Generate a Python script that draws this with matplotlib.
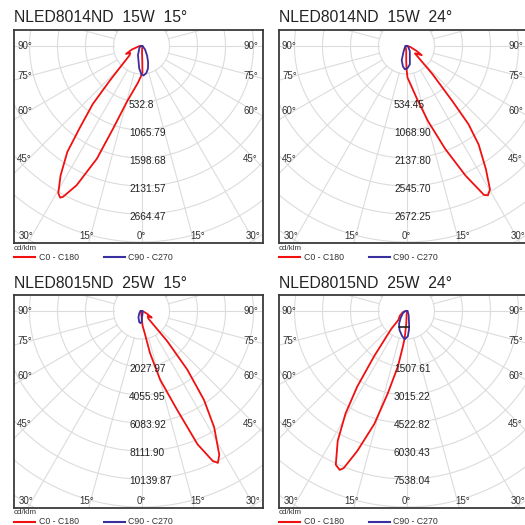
import numpy as np
import matplotlib.pyplot as plt

plt.rcParams['font.family'] = ['Liberation Sans', 'DejaVu Sans']

titles = ["NLED8014ND  15W  15°", "NLED8014ND  15W  24°",
          "NLED8015ND  25W  15°", "NLED8015ND  25W  24°"]
ring_labels = [
    ["532.8", "1065.79", "1598.68", "2131.57", "2664.47"],
    ["534.45", "1068.90", "2137.80", "2545.70", "2672.25"],
    ["2027.97", "4055.95", "6083.92", "8111.90", "10139.87"],
    ["1507.61", "3015.22", "4522.82", "6030.43", "7538.04"],
]
side_labels = ["90°", "75°", "60°", "45°"]
bottom_labels = ["30°", "15°", "0°", "15°", "30°"]
legend_labels = ["C0 - C180", "C90 - C270"]
unit_label = "cd/klm"

# gamma in degrees (negative = C180 / C270 side), intensity in cd/klm
p1_c0_gamma = [-90, -70, -63, -58, -52, -49, -45, -42.5, -40, -37, -35, -32, -29.5, -28.2,
               -27.5, -25, -21.6, -19, -14.5, -6, -2, 2, 3, 5, 20, 90]
p1_c0_cd = [19, 97, 165, 126, 145, 184, 291, 446, 722, 978, 1230, 1453, 1608, 1637,
            1618, 1463, 1153, 833, 542, 358, 300, 252, 145, 58, 19, 10]
p1_c90_gamma = [-90, -45, -21, -12, -6, 0, 4, 10, 16, 22, 30, 45, 90]
p1_c90_cd = [10, 29, 94, 139, 213, 271, 281, 262, 223, 168, 107, 48, 10]

p2_c0_gamma = [-90, -10, -3, -1, 0, 1.8, 11, 16, 20.6, 24.5, 27.5, 28.6, 30.2, 32.8,
               36.2, 38.4, 39.8, 42.8, 48.8, 52, 59, 64, 75, 90]
p2_c0_cd = [10, 29, 49, 146, 214, 301, 505, 748, 1049, 1360, 1603, 1623, 1584, 1399,
            1166, 952, 680, 360, 107, 117, 170, 107, 39, 10]
p2_c90_gamma = [-90, -40, -26.6, -18.5, -10, -4.2, 2, 10.4, 15.4, 33, 60, 90]
p2_c90_cd = [10, 29, 65, 144, 197, 223, 214, 178, 120, 58, 19, 10]

p3_c0_gamma = [-90, -10, 0, 4, 8.4, 11.4, 15.2, 19.8, 22.8, 25.4, 26.7, 28.4, 32, 35.1,
               38, 40.5, 42, 50, 57, 64, 90]
p3_c0_cd = [37, 74, 184, 527, 830, 1549, 2581, 3798, 5236, 6010, 6157, 5921, 4966, 3934,
            2692, 1419, 369, 295, 442, 221, 37]
p3_c90_gamma = [-90, -45, -26.6, -12, -5, 0, 5, 20, 90]
p3_c90_cd = [37, 111, 247, 406, 442, 406, 221, 111, 37]

p4_c0_gamma = [-90, -73, -55, -42, -40.4, -35.6, -33.1, -30.7, -27.9, -24.7, -22.8, -21.8,
               -19.4, -15.9, -12.8, -8.8, -5.7, -3.7, -1, 2, 90]
p4_c0_cd = [27, 99, 219, 330, 630, 1494, 2431, 3221, 3958, 4556, 4641, 4556,
            4002, 3163, 2275, 1508, 946, 713, 329, 82, 27]
p4_c90_gamma = [-90, -60, -40, -30, -20, -10, -3.5, 3, 8, 10.3, 15, 30, 90]
p4_c90_cd = [27, 110, 247, 400, 548, 685, 759, 685, 493, 397, 247, 110, 27]
p4_marker_cd = 438   # black level marker across the C90 curve

curves = [
    (p1_c0_gamma, p1_c0_cd, p1_c90_gamma, p1_c90_cd),
    (p2_c0_gamma, p2_c0_cd, p2_c90_gamma, p2_c90_cd),
    (p3_c0_gamma, p3_c0_cd, p3_c90_gamma, p3_c90_cd),
    (p4_c0_gamma, p4_c0_cd, p4_c90_gamma, p4_c90_cd),
]

RED = '#f01010'
BLUE = '#3a2f9e'
GRID = '#dcdcdc'
W = 525.0
RING_PX = 28.0
BOX_W, BOX_H = 249.0, 213.0
CX, CY = 127.5, 16.0          # centre of polar diagram inside the box (px)
box_left = [14, 279, 14, 279]
box_top = [30, 30, 295, 295]


def to_xy(gamma, cd):
    g = np.radians(np.asarray(gamma, float))
    r = np.asarray(cd, float)
    x = np.r_[0, r * np.sin(g), 0]
    y = np.r_[0, -r * np.cos(g), 0]
    return x, y


def crossings(x, y, level):
    xs = []
    for j in range(len(x) - 1):
        if (y[j] - level) * (y[j + 1] - level) < 0:
            f = (level - y[j]) / (y[j + 1] - y[j])
            xs.append(x[j] + f * (x[j + 1] - x[j]))
    return xs


fig = plt.figure(figsize=(5.25, 5.25), dpi=100)

for i in range(4):
    step = float(ring_labels[i][0]) / 2.0
    u = step / RING_PX
    l, t = box_left[i], box_top[i]
    ax = fig.add_axes([l / W, 1 - (t + BOX_H) / W, BOX_W / W, BOX_H / W])
    ax.set_xlim(-CX * u, (BOX_W - CX) * u)
    ax.set_ylim(-(BOX_H - CY) * u, CY * u)
    ax.set_xticks([])
    ax.set_yticks([])
    for s in ax.spines.values():
        s.set_color('#3a3a3a')
        s.set_linewidth(1.3)

    th = np.linspace(0, 2 * np.pi, 361)
    for k in range(1, 11):
        ax.plot(k * step * np.cos(th), k * step * np.sin(th), color=GRID, lw=0.8, zorder=1)
    for a in np.radians(np.arange(0, 360, 15)):
        ax.plot([step * np.sin(a), 11 * step * np.sin(a)],
                [-step * np.cos(a), -11 * step * np.cos(a)], color=GRID, lw=0.8, zorder=1)

    g0, c0, g90, c90 = curves[i]
    x, y = to_xy(g0, c0)
    ax.plot(x, y, color=RED, lw=1.3, zorder=3)
    x, y = to_xy(g90, c90)
    ax.plot(x, y, color=BLUE, lw=1.3, zorder=4)
    if i == 3:
        xs = crossings(x, y, -p4_marker_cd)
        ax.plot([min(xs), max(xs)], [-p4_marker_cd, -p4_marker_cd], color='#222222',
                lw=1.2, zorder=5)

    for k, lab in enumerate(ring_labels[i]):
        ax.text(-12.5 * u, -(k + 2) * step - 2.5 * u, lab, fontsize=7.3,
                ha='left', va='center', color='#222222', zorder=5)

    for lab, dy in zip(side_labels, [0, 30, 65, 113]):
        ax.text((-CX + 3) * u, -dy * u, lab, fontsize=7, ha='left', va='center', color='#333333')
        ax.text((BOX_W - CX - 5) * u, -dy * u, lab, fontsize=7, ha='right', va='center',
                color='#333333')
    for lab, dx in zip(bottom_labels, [-115, -55, 0, 56, 112]):
        ax.text(dx * u, -190 * u, lab, fontsize=7, ha='center', va='center', color='#333333')

    fig.text(l / W, 1 - (t - 12) / W, titles[i], fontsize=11.3, ha='left', va='center',
             color='#222222')
    fig.text(l / W, 1 - (t + 218) / W, unit_label, fontsize=5.8, ha='left', va='center',
             color='#333333')
    ly = 1 - (t + 227) / W
    fig.add_artist(plt.Line2D([l / W, (l + 21) / W], [ly, ly], color=RED, lw=1.5,
                              transform=fig.transFigure))
    fig.text((l + 25) / W, ly, legend_labels[0], fontsize=6.3, ha='left', va='center',
             color='#333333')
    fig.add_artist(plt.Line2D([(l + 90) / W, (l + 111) / W], [ly, ly], color=BLUE, lw=1.5,
                              transform=fig.transFigure))
    fig.text((l + 114) / W, ly, legend_labels[1], fontsize=6.3, ha='left', va='center',
             color='#333333')

fig.savefig("out.png", dpi=100)
